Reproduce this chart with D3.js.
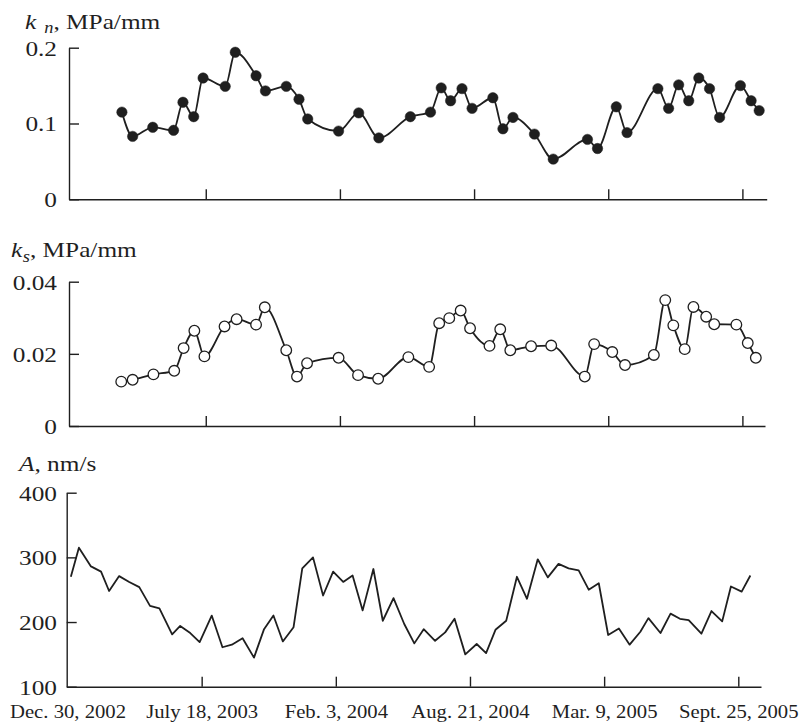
<!DOCTYPE html>
<html>
<head>
<meta charset="utf-8">
<script src="https://d3js.org/d3.v7.min.js"></script>
<style>
  body { margin: 0; background: #fff; }
  svg text { font-family: "Liberation Serif", "Times New Roman", serif; fill: #1f1f1f; }
</style>
</head>
<body>
<div id="chart"></div>
<script>
// x positions are days counted from Dec. 30, 2002
var tickDays = [0, 200, 400, 600, 800, 1000]
var tickLabels = ["Dec. 30, 2002", "July 18, 2003", "Feb. 3, 2004", "Aug. 21, 2004", "Mar. 9, 2005", "Sept. 25, 2005"]

// normal stiffness k_n, MPa/mm
var knDays = [75, 91, 121, 152, 166, 182, 196, 229, 244, 275, 289, 320, 339, 352, 398, 428, 458, 505, 535, 551, 565,
  582, 597, 628, 643, 658, 690, 718, 769, 784, 812, 828, 874, 890, 905, 920, 935, 951, 966, 997, 1013, 1025]
var knValues = [0.115, 0.083, 0.095, 0.091, 0.128, 0.109, 0.160, 0.149, 0.194, 0.163, 0.143, 0.149, 0.132, 0.106,
  0.090, 0.114, 0.081, 0.109, 0.115, 0.147, 0.130, 0.146, 0.120, 0.134, 0.093, 0.108, 0.086, 0.053, 0.079, 0.067,
  0.122, 0.088, 0.146, 0.120, 0.151, 0.130, 0.160, 0.146, 0.108, 0.150, 0.130, 0.117]
var knTicks = [0, 0.1, 0.2]

// shear stiffness k_s, MPa/mm
var ksDays = [74, 91, 122, 153, 167, 183, 198, 228, 246, 275, 288, 320, 336, 351, 398, 427, 457, 502, 533, 548, 563,
  580, 594, 623, 639, 654, 685, 715, 765, 779, 806, 825, 868, 885, 897, 914, 927, 946, 958, 991, 1008, 1020]
var ksValues = [0.0123, 0.0128, 0.0143, 0.0153, 0.0216, 0.0264, 0.0193, 0.0276, 0.0296, 0.0281, 0.0329, 0.0210,
  0.0137, 0.0174, 0.0189, 0.0141, 0.0131, 0.0191, 0.0164, 0.0285, 0.0299, 0.0320, 0.0271, 0.0222, 0.0268, 0.0210,
  0.0221, 0.0223, 0.0137, 0.0227, 0.0205, 0.0169, 0.0197, 0.0349, 0.0279, 0.0213, 0.0330, 0.0303, 0.0282, 0.0281,
  0.0230, 0.0189]
var ksTicks = [0, 0.02, 0.04]

// amplitude A, nm/s
var aDays = [5, 17, 35, 50, 62, 77, 92, 107, 123, 137, 156, 168, 183, 197, 215, 231, 245, 261, 278, 293,
  307, 321, 337, 350, 366, 381, 396, 411, 425, 440, 456, 470, 486, 502, 517, 531, 548, 563, 577, 593,
  610, 624, 638, 654, 670, 685, 701, 716, 732, 747, 762, 777, 792, 806, 822, 838, 854, 866, 884, 899,
  913, 926, 945, 960, 976, 989, 1005, 1018]
var aValues = [270, 315, 286, 278, 248, 271, 262, 254, 225, 221, 181, 194, 183, 169, 210, 161, 165, 175, 145, 189,
  210, 170, 192, 283, 300, 241, 278, 262, 272, 218, 282, 202, 237, 197, 167, 189, 171, 184, 205, 150,
  166, 152, 188, 202, 270, 236, 297, 269, 290, 283, 280, 250, 260, 180, 190, 165, 185, 206, 183, 213,
  205, 203, 182, 217, 201, 255, 247, 272]
var aTicks = [100, 200, 300, 400]

var ink = "#1f1f1f"
var serif = '"Liberation Serif", "Times New Roman", serif'
var stretch = 1.15 // the scanned lettering is a bit wider than plain Times
var pxPerDay = 0.6708

var svg = d3.select("#chart")
  .append("svg")
  .attr("width", 804)
  .attr("height", 724)

//------------------------------------------------------------------------//
// one panel: axes with inward ticks, then the series
function makePanel(opt) {
  var x = d3.scaleLinear()
    .domain([(opt.left - opt.x0) / pxPerDay, (opt.right - opt.x0) / pxPerDay])
    .range([opt.left, opt.right])
  var y = d3.scaleLinear()
    .domain(opt.yDomain)
    .range(opt.yRange)

  var g = svg.append("g")

  // X axis
  var xAxis = g.append("g")
    .attr("transform", "translate(0," + opt.yRange[0] + ")")
    .call(d3.axisBottom(x)
      .tickValues(tickDays)
      .tickSize(-10)
      .tickSizeOuter(0)
      .tickFormat(function(d, i) {
        return opt.labels ? tickLabels[i] : ""
      }))
  xAxis.selectAll(".tick line").filter(function(d) {
    return d === 0
  }).remove()
  xAxis.attr("font-family", serif).attr("font-size", 18).attr("color", ink)
  xAxis.selectAll("path, line").attr("stroke-width", 1.4)
  xAxis.selectAll("text")
    .attr("y", 31)
    .attr("dy", 0)
    .attr("transform", "scale(" + stretch + ",1)")

  // Y axis
  var yAxis = g.append("g")
    .attr("transform", "translate(" + opt.left + ",0)")
    .call(d3.axisLeft(y)
      .tickValues(opt.yTicks)
      .tickSize(-10)
      .tickSizeOuter(0)
      .tickFormat(function(d) {
        return String(d)
      }))
  yAxis.attr("font-family", serif).attr("font-size", 22).attr("color", ink)
  yAxis.selectAll("path, line").attr("stroke-width", 1.4)
  yAxis.selectAll("text")
    .attr("x", 0)
    .attr("dy", "0.34em")
    .attr("transform", "translate(" + (57 - opt.left) + ",0) scale(" + stretch + ",1)")

  // the series
  var pts = opt.days.map(function(d, i) {
    return { day: d, value: opt.values[i] }
  })
  g.append("path")
    .datum(pts)
    .attr("fill", "none")
    .attr("stroke", ink)
    .attr("stroke-width", 1.8)
    .attr("stroke-linejoin", "round")
    .attr("d", d3.line()
      .curve(opt.curve)
      .x(function(d) {
        return x(d.day)
      })
      .y(function(d) {
        return y(d.value)
      }))

  if (opt.dots) {
    g.append("g")
      .selectAll("circle")
      .data(pts)
      .enter()
      .append("circle")
      .attr("cx", function(d) {
        return x(d.day)
      })
      .attr("cy", function(d) {
        return y(d.value)
      })
      .attr("r", opt.dots === "filled" ? 5.2 : 5.3)
      .attr("fill", opt.dots === "filled" ? ink : "#fff")
      .attr("stroke", ink)
      .attr("stroke-width", opt.dots === "filled" ? 0.5 : 1.3)
  }
}

// axis title with italic symbol and subscript
function heading(xp, yp, parts) {
  var t = svg.append("text")
    .attr("transform", "translate(" + xp + "," + yp + ") scale(" + stretch + ",1)")
    .attr("font-size", 22)
  parts.forEach(function(p) {
    t.append("tspan")
      .text(p.s)
      .attr("font-style", p.i ? "italic" : null)
      .attr("font-size", p.size || null)
      .attr("dx", p.dx || null)
      .attr("dy", p.dy || null)
  })
}
//------------------------------------------------------------------------//

makePanel({
  left: 69, right: 766.7, x0: 71.6,
  yDomain: [0, 0.2], yRange: [199.3, 47.7], yTicks: knTicks,
  days: knDays, values: knValues, curve: d3.curveMonotoneX, dots: "filled", labels: false
})
makePanel({
  left: 69, right: 765, x0: 71.6,
  yDomain: [0, 0.04], yRange: [426, 281.7], yTicks: ksTicks,
  days: ksDays, values: ksValues, curve: d3.curveMonotoneX, dots: "open", labels: false
})
makePanel({
  left: 66.7, right: 761, x0: 67.5,
  yDomain: [100, 400], yRange: [686.7, 492.7], yTicks: aTicks,
  days: aDays, values: aValues, curve: d3.curveLinear, dots: null, labels: true
})

heading(25, 29, [{ s: "k", i: 1 }, { s: "n", i: 1, size: 16, dx: 7, dy: 4 }, { s: ",", dy: -4 }, { s: " MPa/mm" }])
heading(11, 257, [{ s: "k", i: 1 }, { s: "s", i: 1, size: 16, dx: 0.5, dy: 5 }, { s: ",", dy: -5 }, { s: " MPa/mm" }])
heading(19, 471, [{ s: "A", i: 1 }, { s: ", nm/s" }])
</script>
</body>
</html>
